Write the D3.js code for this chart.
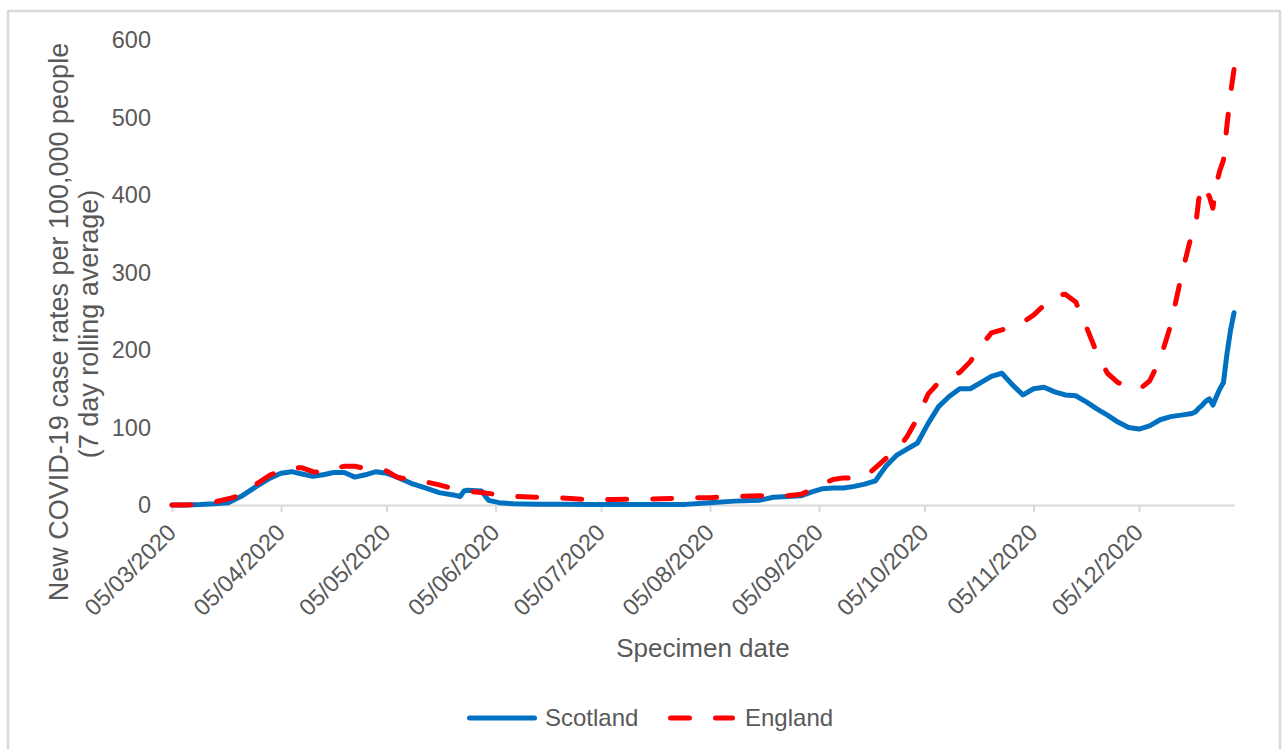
<!DOCTYPE html>
<html>
<head>
<meta charset="utf-8">
<script src="https://cdn.jsdelivr.net/npm/d3@7"></script>
<style>
  body { margin: 0; background: #fff; }
  text { font-family: "Liberation Sans", Arial, sans-serif; fill: #595959; }
</style>
</head>
<body>
<div id="chart"></div>
<script>
// values (new cases per 100,000, 7 day rolling average)
var dates = ['2020-03-05','2020-03-09','2020-03-13','2020-03-17','2020-03-21','2020-03-25','2020-03-29','2020-04-02',
  '2020-04-05','2020-04-08','2020-04-11','2020-04-14','2020-04-17','2020-04-20','2020-04-23','2020-04-26','2020-04-29',
  '2020-05-02','2020-05-05','2020-05-08','2020-05-12','2020-05-16','2020-05-20','2020-05-24','2020-05-26','2020-05-27',
  '2020-05-28','2020-06-01','2020-06-03','2020-06-06','2020-06-10','2020-06-17','2020-06-24','2020-07-01','2020-07-08',
  '2020-07-15','2020-07-22','2020-07-29','2020-08-05','2020-08-12','2020-08-19','2020-08-23','2020-08-27','2020-08-31',
  '2020-09-03','2020-09-06','2020-09-09','2020-09-12','2020-09-15','2020-09-18','2020-09-21','2020-09-24','2020-09-27',
  '2020-09-30','2020-10-03','2020-10-06','2020-10-09','2020-10-12','2020-10-15','2020-10-18','2020-10-21','2020-10-24',
  '2020-10-27','2020-10-30','2020-11-02','2020-11-05','2020-11-08','2020-11-11','2020-11-14','2020-11-17','2020-11-20',
  '2020-11-23','2020-11-26','2020-11-29','2020-12-02','2020-12-05','2020-12-08','2020-12-11','2020-12-14','2020-12-17',
  '2020-12-20','2020-12-21','2020-12-22','2020-12-23','2020-12-24','2020-12-25','2020-12-26','2020-12-27','2020-12-28',
  '2020-12-29','2020-12-30','2020-12-31','2021-01-01'];

var scotland = [0, 0, 0.5, 1.5, 3, 12, 24, 35,
  41, 43, 40, 37, 39, 42, 42, 36, 39,
  43, 41, 36, 28, 22, 16, 13, 11, 18,
  19, 18, 6, 3, 1.5, 1, 1, 0.5, 0.5,
  0.5, 0.5, 0.8, 3, 5, 6, 10, 11, 12,
  17, 21, 22, 22, 24, 27, 31, 50, 64,
  72, 80, 105, 127, 140, 150, 150, 158, 166,
  170, 155, 142, 150, 152, 146, 142, 141, 133,
  124, 116, 107, 100, 98, 102, 110, 114, 116,
  118, 120, 125, 129, 134, 137, 129, 140, 150,
  158, 195, 225, 248];

var england = [0, 0, 1, 4, 8, 13, 27, 39,
  44, 48, 48, 43, 42, 47, 50, 50, 47,
  46, 44, 36, 32, 30, 26, 21, 20, 19,
  18, 16, 15, 13, 11, 10, 9, 7, 7,
  7.5, 8, 9, 9.5, 11, 12, 12, 12, 14,
  20, 27, 33, 35, 35, 36, 48, 60, 70,
  88, 112, 143, 158, 166, 171, 185, 205, 222,
  226, 230, 236, 245, 258, 270, 272, 262, 230,
  196, 170, 158, 152, 149, 160, 188, 232, 295,
  350, 357, 395, 413, 405, 398, 383, 415, 432,
  445, 490, 530, 562];

var xTickDates = ['2020-03-05','2020-04-05','2020-05-05','2020-06-05','2020-07-05','2020-08-05',
  '2020-09-05','2020-10-05','2020-11-05','2020-12-05'];
var yTicks = [0, 100, 200, 300, 400, 500, 600];
var seriesNames = ['Scotland', 'England'];
var seriesColors = ['#0070C0', '#FF0000'];

// svg container
var svgWidth = 1284;
var svgHeight = 749;

// plot area
var margin = { top: 40, left: 172 };
var chartWidth = 1062;
var chartHeight = 465;

var parse = d3.timeParse('%Y-%m-%d');

var rows = dates.map(function (d, i) {
  return { date: parse(d), scotland: scotland[i], england: england[i] };
});

var svg = d3.select('#chart').append('svg')
  .attr('width', svgWidth)
  .attr('height', svgHeight);

// outer frame
svg.append('rect')
  .attr('x', 8).attr('y', 11)
  .attr('width', 1272).attr('height', 760)
  .attr('fill', '#fff')
  .attr('stroke', '#d9d9d9')
  .attr('stroke-width', 2.5);

var chartGroup = svg.append('g')
  .attr('transform', `translate(${margin.left}, ${margin.top})`);

// scales
var xscale = d3.scaleTime()
  .domain(d3.extent(rows, d => d.date))
  .range([0, chartWidth]);

var yscale = d3.scaleLinear()
  .domain([0, 600])
  .range([chartHeight, 0]);

// x axis
var bottomaxis = d3.axisBottom(xscale)
  .tickValues(xTickDates.map(parse))
  .tickFormat(d3.timeFormat('%d/%m/%Y'))
  .tickSizeInner(7)
  .tickSizeOuter(0);

var xAxisG = chartGroup.append('g')
  .attr('transform', `translate(0, ${chartHeight})`)
  .call(bottomaxis);

xAxisG.select('.domain').attr('stroke', '#d9d9d9').attr('stroke-width', 2);
xAxisG.selectAll('.tick line').attr('stroke', '#d9d9d9').attr('stroke-width', 2);
xAxisG.selectAll('.tick text')
  .attr('x', null).attr('y', null).attr('dy', null)
  .attr('transform', 'translate(5, 29) rotate(-45)')
  .style('text-anchor', 'end')
  .style('font-size', '23.5px')
  .attr('fill', '#595959');

// y axis, labels only
var leftaxis = d3.axisLeft(yscale).tickValues(yTicks).tickSize(0).tickPadding(21);
var yAxisG = chartGroup.append('g').call(leftaxis);
yAxisG.select('.domain').remove();
yAxisG.selectAll('.tick text')
  .style('font-size', '23.5px')
  .attr('fill', '#595959');

// lines
var scotLine = d3.line().x(d => xscale(d.date)).y(d => yscale(d.scotland));
var engLine = d3.line().x(d => xscale(d.date)).y(d => yscale(d.england));

chartGroup.append('path')
  .datum(rows)
  .attr('d', scotLine)
  .attr('fill', 'none')
  .attr('stroke', seriesColors[0])
  .attr('stroke-width', 5)
  .attr('stroke-linejoin', 'round')
  .attr('stroke-linecap', 'round');

chartGroup.append('path')
  .datum(rows)
  .attr('d', engLine)
  .attr('fill', 'none')
  .attr('stroke', seriesColors[1])
  .attr('stroke-width', 5)
  .attr('stroke-dasharray', '19,26')
  .attr('stroke-linejoin', 'round')
  .attr('stroke-linecap', 'round');

// axis titles
svg.append('text')
  .attr('transform', 'translate(68, 322) rotate(-90)')
  .style('text-anchor', 'middle')
  .style('font-size', '27px')
  .text('New COVID-19 case rates per 100,000 people');

svg.append('text')
  .attr('transform', 'translate(98, 324) rotate(-90)')
  .style('text-anchor', 'middle')
  .style('font-size', '27px')
  .text('(7 day rolling average)');

svg.append('text')
  .attr('x', 703)
  .attr('y', 657)
  .style('text-anchor', 'middle')
  .style('font-size', '26px')
  .text('Specimen date');

// legend
var legend = svg.append('g');
var legendItems = [
  { name: seriesNames[0], color: seriesColors[0], x1: 469.5, x2: 534.5, dash: null, tx: 545 },
  { name: seriesNames[1], color: seriesColors[1], x1: 670.5, x2: 732.5, dash: '19,26', tx: 745 }
];
legendItems.forEach(function (item) {
  legend.append('line')
    .attr('x1', item.x1).attr('x2', item.x2)
    .attr('y1', 718).attr('y2', 718)
    .attr('stroke', item.color)
    .attr('stroke-width', 5)
    .attr('stroke-linecap', 'round')
    .attr('stroke-dasharray', item.dash);
  legend.append('text')
    .attr('x', item.tx)
    .attr('y', 726)
    .style('font-size', '24px')
    .text(item.name);
});
</script>
</body>
</html>
